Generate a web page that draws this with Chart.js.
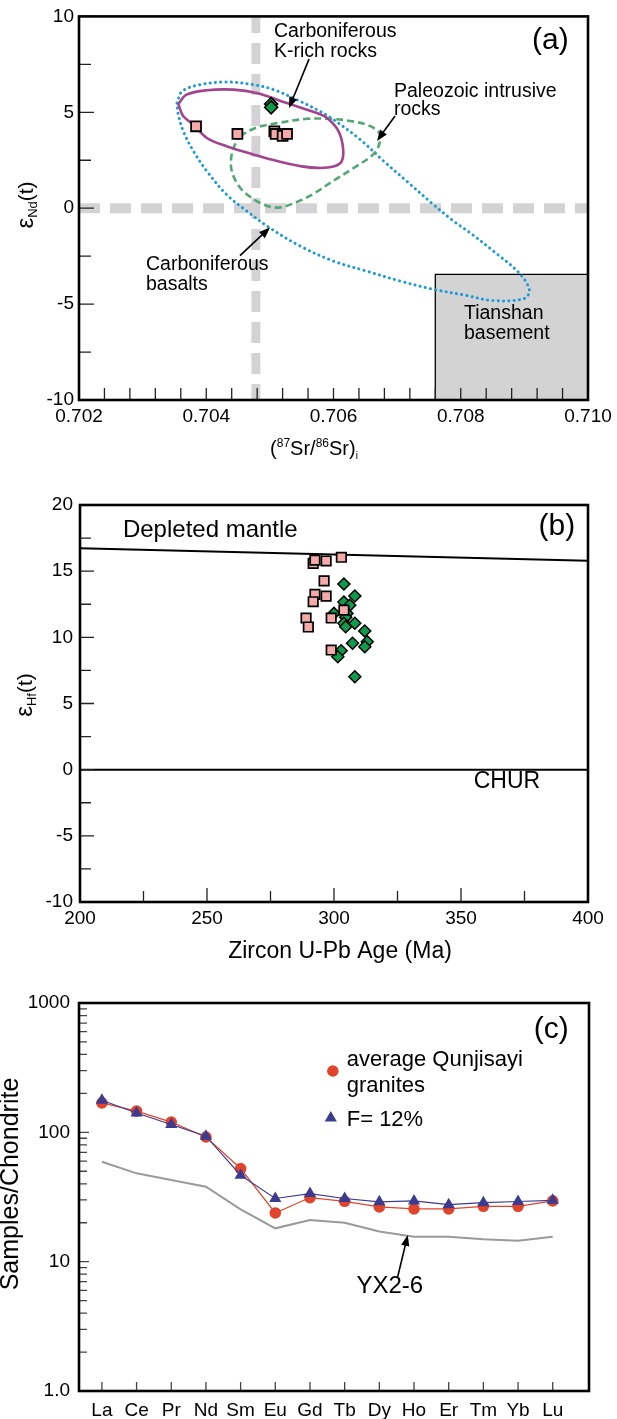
<!DOCTYPE html>
<html>
<head>
<meta charset="utf-8">
<script src="https://cdn.jsdelivr.net/npm/chart.js@4.4.1/dist/chart.umd.min.js"></script>
<style>
html,body{margin:0;padding:0;background:#fff;}
#wrap{position:relative;width:617px;height:1419px;overflow:hidden;}
.box{position:absolute;left:0;width:617px;}
</style>
</head>
<body>
<div id="wrap">
  <div class="box" style="top:0;height:460px"><canvas id="ca"></canvas></div>
  <div class="box" style="top:460px;height:505px"><canvas id="cb"></canvas></div>
  <div class="box" style="top:955px;height:464px"><canvas id="cc"></canvas></div>
</div>
<script>
const FONT = "'Liberation Sans', Arial, Helvetica, sans-serif";

// ---------------- Panel (a) data ----------------
const srTicks = [0.702, 0.704, 0.706, 0.708, 0.710];
const ndTicks = [-10, -5, 0, 5, 10];
const srSquares = [0.70384, 0.70449, 0.70507, 0.70509, 0.70520, 0.70527];
const ndSquares = [4.27, 3.87, 4.01, 3.87, 3.77, 3.87];
const srDiamonds = [0.70502, 0.70502];
const ndDiamonds = [5.43, 5.26];
const kRichOutline = [[0.70356,5.43],[0.70369,5.92],[0.70401,6.15],[0.70443,6.18],[0.70479,6.01],[0.70527,5.48],[0.70574,4.96],[0.70590,4.70],[0.70608,4.01],[0.70615,3.14],[0.70613,2.45],[0.70600,2.17],[0.70576,2.10],[0.70550,2.18],[0.70516,2.42],[0.70474,2.80],[0.70432,3.23],[0.70401,3.66],[0.70380,4.36],[0.70364,4.79],[0.70356,5.43]];
const paleozoicOutline = [[0.70453,3.77],[0.70479,4.20],[0.70516,4.46],[0.70558,4.66],[0.70595,4.66],[0.70626,4.55],[0.70657,4.29],[0.70673,3.85],[0.70670,3.16],[0.70660,2.73],[0.70637,2.21],[0.70600,1.43],[0.70568,0.74],[0.70547,0.39],[0.70516,0.04],[0.70495,0.13],[0.70474,0.48],[0.70453,1.08],[0.70440,1.95],[0.70440,2.82],[0.70448,3.51],[0.70453,3.77]];
const basaltOutline = [[0.70354,5.48],[0.70362,6.09],[0.70390,6.44],[0.70432,6.58],[0.70474,6.44],[0.70506,6.18],[0.70542,5.66],[0.70579,5.05],[0.70600,4.62],[0.70642,3.58],[0.70679,2.45],[0.70715,1.41],[0.70757,0.19],[0.70789,-0.68],[0.70815,-1.29],[0.70854,-2.31],[0.70893,-3.42],[0.70908,-4.29],[0.70899,-4.72],[0.70849,-4.81],[0.70809,-4.55],[0.70757,-4.23],[0.70705,-3.80],[0.70652,-3.28],[0.70600,-2.76],[0.70548,-1.98],[0.70500,-1.03],[0.70464,-0.16],[0.70432,0.71],[0.70401,1.93],[0.70380,2.97],[0.70364,4.01],[0.70356,4.88],[0.70354,5.48]];
const tianshanSr = [0.7076, 0.7076, 0.7100];
const tianshanNd = [-10, -3.45, -3.45];
const srReference = 0.70478;
const ndReference = 0;

// ---------------- Panel (b) data ----------------
const ageTicks = [200, 250, 300, 350, 400];
const ehfTicks = [-10, -5, 0, 5, 10, 15, 20];
const squareAge = [291.8, 292.5, 296.9, 302.9, 296.1, 292.5, 296.9, 291.8, 303.9, 289.0, 298.9, 289.9, 298.9];
const squareEhf = [15.59, 15.84, 15.77, 16.05, 14.26, 13.25, 13.12, 12.69, 12.06, 11.46, 11.46, 10.78, 9.04];
const diamondAge = [303.9, 308.2, 303.9, 306.2, 300.0, 305.1, 304.6, 303.9, 308.2, 304.6, 312.1, 313.1, 312.1, 307.3, 302.8, 301.5, 308.2];
const diamondEhf = [14.03, 13.12, 12.67, 12.42, 11.81, 11.81, 11.51, 11.06, 11.06, 10.80, 10.48, 9.67, 9.29, 9.55, 8.99, 8.53, 7.02];
const depletedMantleAge = [200, 400];
const depletedMantleEhf = [16.73, 15.79];
const churAge = [200, 400];
const churEhf = [0, 0];

// ---------------- Panel (c) data ----------------
const ree = ['La','Ce','Pr','Nd','Sm','Eu','Gd','Tb','Dy','Ho','Er','Tm','Yb','Lu'];
const graniteAvg = [169, 146, 120, 92, 52.5, 23.8, 31.3, 29.3, 26.5, 25.6, 25.6, 26.8, 26.8, 29.5];
const modelF12 = [177, 141, 115, 93.3, 46.6, 30.8, 33.6, 30.8, 29.0, 29.5, 27.6, 28.6, 29.2, 29.8];
const yx26 = [59.3, 48.2, 42.8, 38.0, 25.4, 18.1, 21.0, 20.0, 17.1, 15.6, 15.6, 14.9, 14.5, 15.6];
const chondriteTicks = [1, 10, 100, 1000];

// ---------------- helpers ----------------
const pts = (xs, ys) => xs.map((x, i) => ({x, y: ys[i]}));
const pairs = arr => arr.map(([x, y]) => ({x, y}));

function rich(ctx, parts, x, y, rot) {
  ctx.save();
  ctx.translate(x, y);
  if (rot) ctx.rotate(rot);
  ctx.fillStyle = '#000';
  ctx.textBaseline = 'alphabetic';
  ctx.textAlign = 'left';
  let total = 0;
  const ws = parts.map(p => { ctx.font = p[1] + 'px ' + FONT; const w = ctx.measureText(p[0]).width; total += w; return w; });
  let cx = -total / 2;
  parts.forEach((p, i) => { ctx.font = p[1] + 'px ' + FONT; ctx.fillText(p[0], cx, p[2] || 0); cx += ws[i]; });
  ctx.restore();
}

function arrow(ctx, x1, y1, x2, y2) {
  const ang = Math.atan2(y2 - y1, x2 - x1);
  const L = 11, W = 4.2;
  ctx.beginPath();
  ctx.moveTo(x1, y1);
  ctx.lineTo(x2 - Math.cos(ang) * (L - 2), y2 - Math.sin(ang) * (L - 2));
  ctx.lineWidth = 1.6;
  ctx.strokeStyle = '#000';
  ctx.stroke();
  ctx.beginPath();
  ctx.moveTo(x2, y2);
  ctx.lineTo(x2 - Math.cos(ang) * L - Math.sin(ang) * W, y2 - Math.sin(ang) * L + Math.cos(ang) * W);
  ctx.lineTo(x2 - Math.cos(ang) * L + Math.sin(ang) * W, y2 - Math.sin(ang) * L - Math.cos(ang) * W);
  ctx.closePath();
  ctx.fillStyle = '#000';
  ctx.fill();
}

function deco(o) {
  return {
    id: 'deco',
    afterDatasetsDraw(chart) {
      const {ctx, chartArea: a} = chart;
      const xs = chart.scales.x, ys = chart.scales.y;
      ctx.save();
      ctx.strokeStyle = o.tickColor || '#222';
      ctx.lineWidth = 1.3;
      ctx.beginPath();
      const vx = (list, len) => list.forEach(v => { const p = xs.getPixelForValue(v); ctx.moveTo(p, a.bottom); ctx.lineTo(p, a.bottom - len); });
      const vy = (list, len) => list.forEach(v => { const p = ys.getPixelForValue(v); ctx.moveTo(a.left, p); ctx.lineTo(a.left + len, p); });
      vx(o.xMajor, o.xMajorLen); vx(o.xMinor, o.xMinorLen);
      vy(o.yMajor, o.yMajorLen); vy(o.yMinor, o.yMinorLen);
      ctx.stroke();
      (o.marks || []).forEach(m => {
        const px = xs.getPixelForValue(m.x), py = ys.getPixelForValue(m.y);
        ctx.beginPath();
        if (m.shape === 'circle') {
          ctx.arc(px, py, m.r, 0, Math.PI * 2);
        } else {
          ctx.moveTo(px, py - m.r);
          ctx.lineTo(px + m.r * 0.866, py + m.r * 0.5);
          ctx.lineTo(px - m.r * 0.866, py + m.r * 0.5);
          ctx.closePath();
        }
        ctx.fillStyle = m.color;
        ctx.fill();
      });
      (o.arrows || []).forEach(r => {
        arrow(ctx, xs.getPixelForValue(r[0]), ys.getPixelForValue(r[1]), xs.getPixelForValue(r[2]), ys.getPixelForValue(r[3]));
      });
      ctx.fillStyle = '#000';
      ctx.textAlign = 'left';
      ctx.textBaseline = 'middle';
      (o.texts || []).forEach(t => {
        ctx.font = (t.size || o.textSize) + 'px ' + FONT;
        ctx.fillText(t.t, xs.getPixelForValue(t.x), ys.getPixelForValue(t.y));
      });
      ctx.lineWidth = 2.6;
      ctx.strokeStyle = '#000';
      ctx.strokeRect(a.left, a.top, a.right - a.left, a.bottom - a.top);
      ctx.restore();
    },
    afterDraw(chart) {
      (o.titles || []).forEach(t => rich(chart.ctx, t.parts, t.x, t.y, t.rot));
    }
  };
}

function axis(opts) {
  return Object.assign({
    grid: {display: false, drawTicks: false, tickLength: 0},
    border: {display: false},
  }, opts);
}

function tickFont(size) { return {family: FONT, size: size}; }

const common = {
  responsive: true,
  maintainAspectRatio: false,
  animation: false,
  events: [],
  plugins: {legend: {display: false}, tooltip: {enabled: false}},
};

// ---------------- Chart (a) ----------------
const srMinor = [];
for (let v = 0.7024; v < 0.7099; v += 0.0004) srMinor.push(+v.toFixed(4));

new Chart(document.getElementById('ca'), {
  type: 'scatter',
  data: {datasets: [
    {data: pts(srDiamonds, ndDiamonds), pointStyle: 'rectRot', pointRadius: 6.5, backgroundColor: '#0f9a4c', borderColor: '#000', borderWidth: 1.6, order: 0},
    {data: pts(srSquares, ndSquares), pointStyle: 'rect', pointRadius: 7, backgroundColor: '#f6a9a9', borderColor: '#000', borderWidth: 1.8, order: 1},
    {data: pairs(kRichOutline), showLine: true, pointRadius: 0, borderColor: '#a2448f', borderWidth: 2.6, tension: 0.35, order: 2},
    {data: pairs(paleozoicOutline), showLine: true, pointRadius: 0, borderColor: '#52a874', borderWidth: 2.6, borderDash: [7, 4], tension: 0.35, order: 3},
    {data: pairs(basaltOutline), showLine: true, pointRadius: 0, borderColor: '#1b9ad7', borderWidth: 3, borderDash: [0.1, 5.2], borderCapStyle: 'round', tension: 0.35, order: 4},
    {data: [{x: srTicks[0], y: ndReference}, {x: srTicks[srTicks.length - 1], y: ndReference}], showLine: true, pointRadius: 0, borderColor: '#d3d3d5', borderWidth: 10, borderDash: [21, 10], clip: 0, order: 5},
    {data: [{x: srReference, y: ndTicks[ndTicks.length - 1]}, {x: srReference, y: ndTicks[0]}], showLine: true, pointRadius: 0, borderColor: '#d3d3d5', borderWidth: 9, borderDash: [21, 10], borderDashOffset: 4.3, clip: 0, order: 6},
    {data: pts(tianshanSr, tianshanNd), showLine: true, pointRadius: 0, borderColor: '#000', borderWidth: 1.3, backgroundColor: '#d3d3d4', fill: 'start', order: 7},
  ]},
  options: Object.assign({}, common, {
    layout: {padding: {top: 15, right: 29, bottom: 0, left: 0}},
    scales: {
      x: axis({type: 'linear', min: 0.702, max: 0.710,
        afterBuildTicks: s => { s.ticks = srTicks.map(v => ({value: v})); },
        afterFit: s => { s.height = 60; },
        ticks: {padding: 5, font: tickFont(19), color: '#000', maxRotation: 0, autoSkip: false, callback: v => v.toFixed(3)}}),
      y: axis({type: 'linear', min: -10, max: 10,
        afterBuildTicks: s => { s.ticks = ndTicks.map(v => ({value: v})); },
        afterFit: s => { s.width = 79; },
        ticks: {padding: 5, font: tickFont(19), color: '#000', callback: v => String(v)}}),
    }
  }),
  plugins: [deco({
    xMajor: srTicks, xMajorLen: 12, xMinor: srMinor, xMinorLen: 12,
    yMajor: ndTicks, yMajorLen: 15, yMinor: [-7.5, -2.5, 2.5, 7.5], yMinorLen: 12,
    textSize: 19.5,
    texts: [
      {x: 0.705065, y: 9.22, t: 'Carboniferous'},
      {x: 0.705065, y: 8.18, t: 'K-rich rocks'},
      {x: 0.70912, y: 8.75, t: '(a)', size: 30},
      {x: 0.706951, y: 6.10, t: 'Paleozoic intrusive'},
      {x: 0.706951, y: 5.12, t: 'rocks'},
      {x: 0.703053, y: -2.94, t: 'Carboniferous'},
      {x: 0.703053, y: -3.97, t: 'basalts'},
      {x: 0.708051, y: -5.48, t: 'Tianshan'},
      {x: 0.708051, y: -6.52, t: 'basement'},
    ],
    arrows: [
      [0.705615, 7.77, 0.705301, 5.22],
      [0.706967, 4.81, 0.706684, 3.51],
      [0.704530, -2.47, 0.705002, -1.01],
    ],
    titles: [
      {parts: [['ε', 24], ['Nd', 13, 4.5], ['(t)', 21]], x: 32.5, y: 205, rot: -Math.PI / 2},
      {parts: [['(', 20], ['87', 12, -8], ['Sr/', 20], ['86', 12, -8], ['Sr)', 20], ['i', 10, 4]], x: 314, y: 455},
    ]
  })]
});

// ---------------- Chart (b) ----------------
new Chart(document.getElementById('cb'), {
  type: 'scatter',
  data: {datasets: [
    {data: pts(squareAge, squareEhf), pointStyle: 'rect', pointRadius: 6.7, backgroundColor: '#f6a9a9', borderColor: '#000', borderWidth: 1.7, order: 0},
    {data: pts(diamondAge, diamondEhf), pointStyle: 'rectRot', pointRadius: 6, backgroundColor: '#0f9a4c', borderColor: '#000', borderWidth: 1.5, order: 1},
    {data: pts(depletedMantleAge, depletedMantleEhf), showLine: true, pointRadius: 0, borderColor: '#000', borderWidth: 2, order: 2},
    {data: pts(churAge, churEhf), showLine: true, pointRadius: 0, borderColor: '#000', borderWidth: 2, order: 3},
  ]},
  options: Object.assign({}, common, {
    layout: {padding: {top: 45, right: 29, bottom: 0, left: 0}},
    scales: {
      x: axis({type: 'linear', min: 200, max: 400,
        afterBuildTicks: s => { s.ticks = ageTicks.map(v => ({value: v})); },
        afterFit: s => { s.height = 63; },
        ticks: {padding: 5, font: tickFont(19), color: '#000', maxRotation: 0, autoSkip: false, callback: v => String(v)}}),
      y: axis({type: 'linear', min: -10, max: 20,
        afterBuildTicks: s => { s.ticks = ehfTicks.map(v => ({value: v})); },
        afterFit: s => { s.width = 80; },
        ticks: {padding: 7, font: tickFont(19), color: '#000', callback: v => String(v)}}),
    }
  }),
  plugins: [deco({
    xMajor: ageTicks, xMajorLen: 14, xMinor: [225, 275, 325, 375], xMinorLen: 11,
    yMajor: ehfTicks, yMajorLen: 14, yMinor: [-7.5, -2.5, 2.5, 7.5, 12.5, 17.5], yMinorLen: 11,
    textSize: 24,
    texts: [
      {x: 216.9, y: 18.11, t: 'Depleted mantle'},
      {x: 380.5, y: 18.34, t: '(b)', size: 30},
      {x: 355.0, y: -0.93, t: 'CHUR', size: 23},
    ],
    titles: [
      {parts: [['ε', 24], ['Hf', 13, 4.5], ['(t)', 21]], x: 31.5, y: 235, rot: -Math.PI / 2},
      {parts: [['Zircon U-Pb Age (Ma)', 23]], x: 340, y: 498},
    ]
  })]
});

// ---------------- Chart (c) ----------------
const logMinor = [];
[1, 10, 100].forEach(d => { for (let k = 2; k <= 9; k++) logMinor.push(d * k); });

new Chart(document.getElementById('cc'), {
  type: 'scatter',
  data: {datasets: [
    {data: modelF12.map((v, i) => ({x: i, y: v})), showLine: true, borderColor: '#3b3b90', borderWidth: 1.1, pointStyle: 'triangle', pointRadius: 7, pointBackgroundColor: '#3b3b90', pointBorderColor: '#3b3b90', pointBorderWidth: 0, order: 0},
    {data: graniteAvg.map((v, i) => ({x: i, y: v})), showLine: true, borderColor: '#e0452c', borderWidth: 1.2, pointStyle: 'circle', pointRadius: 5.8, pointBackgroundColor: '#e0452c', pointBorderColor: '#e0452c', pointBorderWidth: 0, order: 1},
    {data: yx26.map((v, i) => ({x: i, y: v})), showLine: true, borderColor: '#9a9a9a', borderWidth: 2, pointRadius: 0, order: 2},
  ]},
  options: Object.assign({}, common, {
    layout: {padding: {top: 48, right: 28, bottom: 0, left: 0}},
    scales: {
      x: axis({type: 'linear', min: -0.66, max: 14.046,
        afterBuildTicks: s => { s.ticks = ree.map((n, i) => ({value: i})); },
        afterFit: s => { s.height = 28; },
        ticks: {padding: 8, font: tickFont(19), color: '#000', maxRotation: 0, autoSkip: false, callback: v => ree[v] || ''}}),
      y: axis({type: 'logarithmic', min: 1, max: 1000,
        afterBuildTicks: s => { s.ticks = chondriteTicks.map(v => ({value: v})); },
        afterFit: s => { s.width = 79; },
        ticks: {padding: 9, font: tickFont(19), color: '#000', callback: v => (v === 1 ? '1.0' : String(v))}}),
    }
  }),
  plugins: [deco({
    tickColor: '#444',
    xMajor: ree.map((n, i) => i), xMajorLen: 9, xMinor: [], xMinorLen: 0,
    yMajor: chondriteTicks, yMajorLen: 10, yMinor: logMinor, yMinorLen: 8,
    textSize: 22,
    marks: [
      {shape: 'circle', x: 6.66, y: 298, r: 5.8, color: '#e0452c'},
      {shape: 'triangle', x: 6.60, y: 129, r: 7, color: '#3b3b90'},
    ],
    texts: [
      {x: 12.45, y: 618, t: '(c)', size: 30},
      {x: 7.06, y: 362.6, t: 'average Qunjisayi'},
      {x: 7.06, y: 228, t: 'granites'},
      {x: 7.06, y: 124.5, t: 'F= 12%'},
      {x: 7.34, y: 6.49, t: 'YX2-6', size: 24},
    ],
    arrows: [[8.53, 7.65, 8.82, 16.1]],
    titles: [
      {parts: [['Samples/Chondrite', 25]], x: 18, y: 229, rot: -Math.PI / 2},
    ]
  })]
});
</script>
</body>
</html>
